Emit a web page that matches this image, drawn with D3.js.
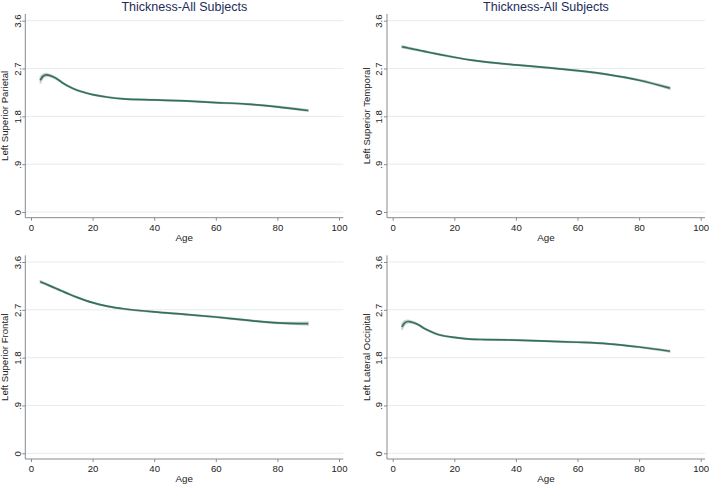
<!DOCTYPE html>
<html>
<head>
<meta charset="utf-8">
<script src="https://cdn.jsdelivr.net/npm/d3@7"></script>
<style>
  body { margin: 0; background: #fff; }
  svg { display: block; font-family: "Liberation Sans", Arial, Helvetica, sans-serif; }
</style>
</head>
<body>
<svg id="chart" width="709" height="485"></svg>
<script>
var ages = [3, 4, 5, 6, 8, 10, 12, 15, 20, 25, 30, 40, 50, 60, 70, 80, 90];

var parietal  = [2.48, 2.56, 2.58, 2.57, 2.52, 2.44, 2.37, 2.29, 2.21, 2.16, 2.13, 2.11, 2.09, 2.06, 2.03, 1.98, 1.91];
var temporal  = [3.11, 3.098, 3.086, 3.074, 3.05, 3.026, 3.002, 2.967, 2.912, 2.862, 2.824, 2.768, 2.718, 2.66, 2.585, 2.48, 2.33];
var frontal   = [3.23, 3.205, 3.18, 3.155, 3.105, 3.055, 3.005, 2.935, 2.835, 2.765, 2.72, 2.66, 2.615, 2.565, 2.505, 2.455, 2.44];
var occipital = [2.38, 2.46, 2.48, 2.47, 2.43, 2.36, 2.30, 2.23, 2.18, 2.15, 2.14, 2.13, 2.11, 2.09, 2.06, 2.00, 1.92];

// half width of the confidence band
var parietalCI  = [0.06, 0.035, 0.025, 0.02, 0.015, 0.012, 0.01, 0.01, 0.008, 0.008, 0.008, 0.008, 0.008, 0.008, 0.009, 0.011, 0.015];
var temporalCI  = [0.02, 0.018, 0.016, 0.015, 0.013, 0.012, 0.011, 0.01, 0.009, 0.008, 0.008, 0.008, 0.008, 0.009, 0.01, 0.013, 0.02];
var frontalCI   = [0.02, 0.018, 0.016, 0.015, 0.013, 0.012, 0.011, 0.01, 0.009, 0.008, 0.008, 0.008, 0.008, 0.009, 0.01, 0.014, 0.025];
var occipitalCI = [0.06, 0.035, 0.025, 0.02, 0.015, 0.012, 0.01, 0.01, 0.008, 0.008, 0.008, 0.008, 0.008, 0.008, 0.009, 0.011, 0.015];

var xTicks = [0, 20, 40, 60, 80, 100];
var yTicks = [0, 0.9, 1.8, 2.7, 3.6];
var yTickLabels = ["0", ".9", "1.8", "2.7", "3.6"];

var panels = [
    { label: "Left Superior Parietal", values: parietal, ci: parietalCI, title: true, dx: 0, dy: 0 },
    { label: "Left Superior Temporal", values: temporal, ci: temporalCI, title: true, dx: 361.7, dy: 0 },
    { label: "Left Superior Frontal", values: frontal, ci: frontalCI, title: false, dx: 0, dy: 241.3 },
    { label: "Left Lateral Occipital", values: occipital, ci: occipitalCI, title: false, dx: 361.7, dy: 241.3 }
];

var svg = d3.select("#chart");

// plot region of a single panel (left/top panel coordinates)
var box = { left: 25.3, right: 343.3, top: 14, bottom: 217.7 };

var x = d3.scaleLinear().domain([0, 100]).range([31, 339]);
var y = d3.scaleLinear().domain([0, 3.6]).range([212, 20.7]);

panels.forEach(function (p) {
    var g = svg.append("g").attr("transform", "translate(" + p.dx + "," + p.dy + ")");

    // grid
    g.selectAll("line.grid")
        .data(yTicks)
        .enter()
        .append("line")
        .attr("class", "grid")
        .attr("x1", box.left)
        .attr("x2", box.right)
        .attr("y1", function (d) { return y(d); })
        .attr("y2", function (d) { return y(d); })
        .attr("stroke", "#e4edef")
        .attr("stroke-width", 1);

    var rows = ages.map(function (a, i) {
        return { age: a, v: p.values[i], ci: p.ci[i] };
    });

    var band = d3.area()
        .x(function (d) { return x(d.age); })
        .y0(function (d) { return y(d.v - d.ci); })
        .y1(function (d) { return y(d.v + d.ci); })
        .curve(d3.curveCatmullRom.alpha(0.5));

    g.append("path")
        .datum(rows)
        .attr("d", band)
        .attr("fill", "#cdd0cf")
        .attr("stroke", "#cdd0cf")
        .attr("stroke-width", 1.4);

    var line = d3.line()
        .x(function (d) { return x(d.age); })
        .y(function (d) { return y(d.v); })
        .curve(d3.curveCatmullRom.alpha(0.5));

    g.append("path")
        .datum(rows)
        .attr("d", line)
        .attr("fill", "none")
        .attr("stroke", "#33715f")
        .attr("stroke-width", 1.7);

    // y axis
    var yAxis = g.append("g")
        .attr("transform", "translate(" + box.left + ",0)")
        .call(d3.axisLeft(y)
            .tickValues(yTicks)
            .tickSize(3)
            .tickFormat(function (d, i) { return yTickLabels[i]; }));
    yAxis.select(".domain").remove();
    yAxis.selectAll(".tick line").attr("stroke", "#8a8a8a");
    yAxis.selectAll(".tick text")
        .attr("x", 0)
        .attr("y", 0)
        .attr("dy", "0.36em")
        .attr("text-anchor", "middle")
        .attr("transform", "translate(-8,0) rotate(-90)")
        .attr("fill", "#222")
        .attr("font-size", 9.6)
        .attr("font-family", null);

    // x axis
    var xAxis = g.append("g")
        .attr("transform", "translate(0," + box.bottom + ")")
        .call(d3.axisBottom(x).tickValues(xTicks).tickSize(3).tickPadding(3));
    xAxis.select(".domain").remove();
    xAxis.selectAll(".tick line").attr("stroke", "#8a8a8a");
    xAxis.selectAll(".tick text")
        .attr("fill", "#222")
        .attr("font-size", 9.6)
        .attr("font-family", null);

    g.append("line")
        .attr("x1", box.left).attr("x2", box.left)
        .attr("y1", box.top).attr("y2", box.bottom)
        .attr("stroke", "#8a8a8a").attr("stroke-width", 1);
    g.append("line")
        .attr("x1", box.left).attr("x2", box.right)
        .attr("y1", box.bottom).attr("y2", box.bottom)
        .attr("stroke", "#8a8a8a").attr("stroke-width", 1);

    g.append("text")
        .attr("x", (box.left + box.right) / 2)
        .attr("y", 241)
        .attr("text-anchor", "middle")
        .attr("font-size", 9.8)
        .attr("fill", "#222")
        .text("Age");

    g.append("text")
        .attr("transform", "translate(" + (box.left - 20.3) + "," + ((box.top + box.bottom) / 2) + ") rotate(-90)")
        .attr("dy", "0.36em")
        .attr("text-anchor", "middle")
        .attr("font-size", 9.6)
        .attr("fill", "#222")
        .text(p.label);

    if (p.title) {
        g.append("text")
            .attr("x", (box.left + box.right) / 2)
            .attr("y", 10.5)
            .attr("text-anchor", "middle")
            .attr("font-size", 12.5)
            .attr("fill", "#1e2c5a")
            .text("Thickness-All Subjects");
    }
});
</script>
</body>
</html>
